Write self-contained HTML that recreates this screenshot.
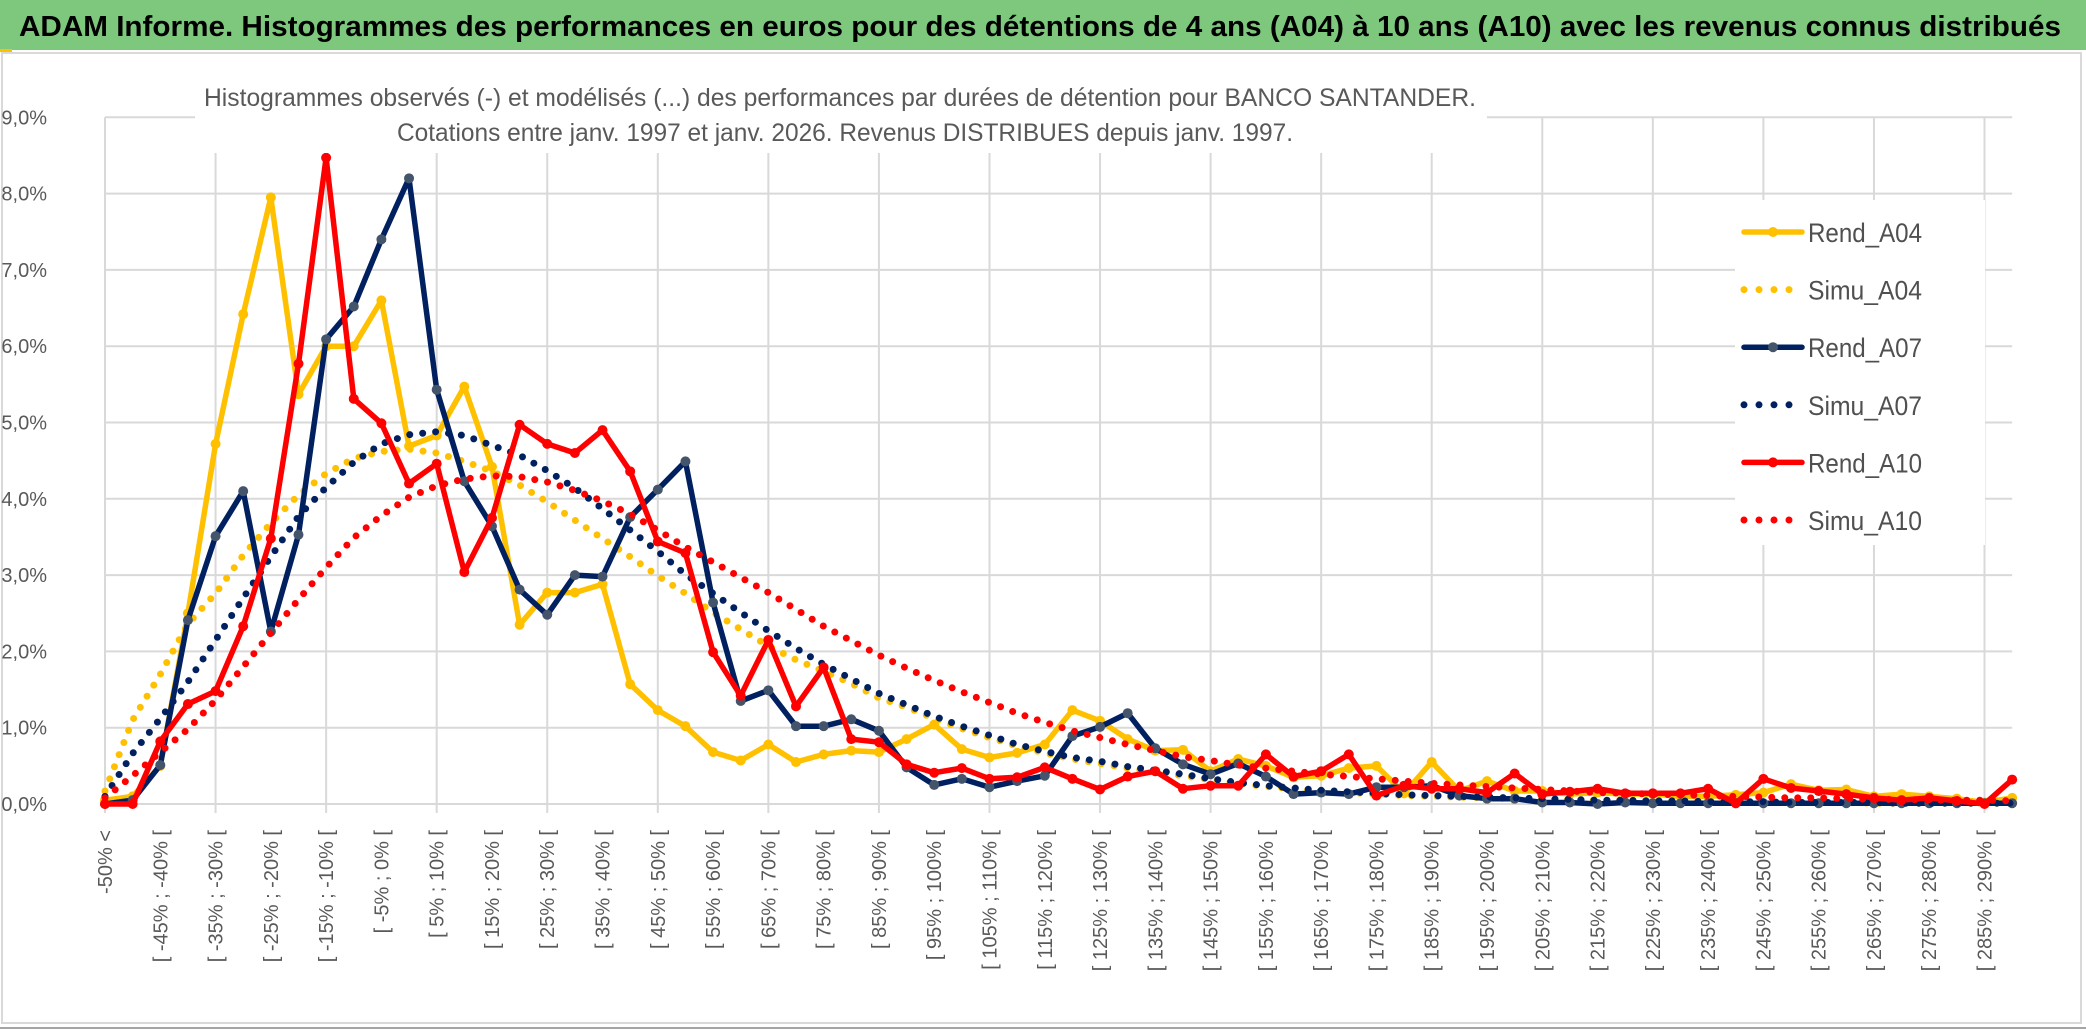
<!DOCTYPE html>
<html><head><meta charset="utf-8"><style>
html,body{margin:0;padding:0;background:#fff;}
svg{display:block;font-family:"Liberation Sans",sans-serif;}
</style></head><body>
<svg id="chart" width="2086" height="1031" viewBox="0 0 2086 1031" xmlns="http://www.w3.org/2000/svg">
<rect x="0" y="0" width="2086" height="1031" fill="#fff"/>
<rect x="0" y="0" width="2086" height="50" fill="#7dc87d"/>
<rect x="0" y="49" width="12" height="3" fill="#ffc000"/>
<text x="19" y="36" font-size="29" font-weight="bold" fill="#000" textLength="2042" lengthAdjust="spacingAndGlyphs">ADAM Informe. Histogrammes des performances en euros pour des détentions de 4 ans (A04) à 10 ans (A10) avec les revenus connus distribués</text>
<rect x="2" y="53" width="2079" height="970" fill="#fff" stroke="#d9d9d9" stroke-width="2"/>
<line x1="0" y1="1028" x2="2086" y2="1028" stroke="#a6a6a6" stroke-width="2"/>
<g id="grid"></g>
<g id="series"></g>
<rect x="195" y="75" width="1292" height="78" fill="#fff"/>
<text x="204" y="106" font-size="25" fill="#595959" textLength="1272" lengthAdjust="spacingAndGlyphs">Histogrammes observés (-) et modélisés (...) des performances par durées de détention pour BANCO SANTANDER.</text>
<text x="397" y="141" font-size="25" fill="#595959" textLength="896" lengthAdjust="spacingAndGlyphs">Cotations entre janv. 1997 et janv. 2026. Revenus DISTRIBUES depuis janv. 1997.</text>
<g id="legend"></g>
</svg>
<script>
const rendA04 = [0.05,0.1,0.5,2.5,4.72,6.42,7.95,5.37,6.0,6.0,6.6,4.69,4.83,5.47,4.42,2.35,2.77,2.77,2.88,1.57,1.23,1.02,0.68,0.57,0.78,0.55,0.65,0.7,0.68,
 0.85,1.04,0.72,0.61,0.67,0.78,1.23,1.09,0.85,0.7,0.71,0.43,0.59,0.5,
 0.35,0.37,0.47,0.5,0.14,0.55,0.17,0.3,0.17,0.17,0.13,0.15,0.13,0.13,
 0.1,0.1,0.12,0.15,0.26,0.18,0.19,0.1,0.13,0.1,0.07,0.02,0.08];
const simuA04 = [0.17,1.1,1.7,2.36,2.76,3.26,3.68,4.05,4.33,4.53,4.62,4.65,4.6,4.49,4.36,4.18,3.96,3.72,3.48,3.24,2.99,2.76,2.51,2.29,2.07,1.89,1.74,1.58,1.39,
 1.27,1.12,0.99,0.87,0.76,0.67,0.59,0.53,0.47,0.42,0.37,0.32,0.27,0.23,
 0.2,0.17,0.15,0.13,0.11,0.1,0.09,0.08,0.07,0.06,0.05,0.05,0.04,0.04,
 0.03,0.03,0.03,0.02,0.02,0.02,0.02,0.01,0.01,0.01,0.01,0.01,0.01];
const rendA07 = [0,0.05,0.51,2.41,3.51,4.1,2.26,3.53,6.09,6.52,7.4,8.2,5.43,4.23,3.64,2.81,2.48,3.0,2.98,3.76,4.12,4.49,2.64,1.35,1.49,1.02,1.02,1.11,0.96,
 0.48,0.25,0.33,0.22,0.3,0.37,0.89,1.01,1.19,0.73,0.52,0.39,0.53,0.36,
 0.13,0.15,0.13,0.22,0.22,0.24,0.11,0.07,0.07,0.02,0.02,0,0.02,0.01,
 0.01,0.01,0.01,0.01,0.01,0.01,0.01,0.01,0.01,0.01,0.01,0.01,0.01];
const simuA07 = [0.1,0.66,1.12,1.6,2.15,2.7,3.24,3.77,4.15,4.48,4.72,4.84,4.88,4.83,4.7,4.57,4.37,4.14,3.87,3.59,3.31,3.01,2.76,2.51,2.27,2.04,1.83,1.64,1.45,
 1.3,1.15,1.02,0.9,0.78,0.69,0.61,0.56,0.49,0.44,0.39,0.33,0.28,0.24,
 0.21,0.18,0.16,0.14,0.12,0.11,0.1,0.09,0.08,0.07,0.06,0.05,0.05,0.04,
 0.04,0.03,0.03,0.03,0.02,0.02,0.02,0.02,0.01,0.01,0.01,0.01,0.01];
const rendA10 = [0,0,0.82,1.31,1.48,2.33,3.48,5.77,8.47,5.31,4.99,4.2,4.46,3.04,3.75,4.97,4.72,4.6,4.9,4.36,3.44,3.29,1.99,1.42,2.15,1.28,1.79,0.85,0.81,
 0.52,0.41,0.47,0.33,0.35,0.48,0.33,0.19,0.36,0.43,0.2,0.24,0.24,0.65,
 0.36,0.43,0.65,0.11,0.24,0.2,0.2,0.15,0.4,0.13,0.16,0.2,0.14,0.14,
 0.14,0.2,0.01,0.33,0.21,0.17,0.13,0.08,0.05,0.08,0.04,0,0.32];
const simuA10 = [0.08,0.37,0.68,0.98,1.36,1.8,2.24,2.68,3.1,3.49,3.78,4.02,4.17,4.26,4.3,4.29,4.22,4.11,3.97,3.8,3.59,3.37,3.17,2.97,2.77,2.55,2.33,2.14,1.95,
 1.78,1.62,1.47,1.33,1.19,1.07,0.96,0.87,0.78,0.7,0.62,0.57,0.51,0.47,
 0.43,0.39,0.36,0.33,0.3,0.27,0.25,0.23,0.21,0.19,0.17,0.15,0.14,0.13,
 0.12,0.11,0.1,0.09,0.08,0.08,0.07,0.06,0.06,0.05,0.05,0.05,0.04];
const yTickValues = [0,1,2,3,4,5,6,7,8,9];
const yTickLabels = ["0,0%","1,0%","2,0%","3,0%","4,0%","5,0%","6,0%","7,0%","8,0%","9,0%"];
const binLower = [];
for (let i = 1; i < 70; i++) binLower.push(-50 + 5 * (i - 1));
const categories = ["-50% <"].concat(binLower.map(l => "[ " + l + "% ; " + (l + 5) + "% ["));
const seriesNames = ["Rend_A04","Simu_A04","Rend_A07","Simu_A07","Rend_A10","Simu_A10"];

const NS = "http://www.w3.org/2000/svg";
const X0 = 105, XSTEP = 27.64, Y0 = 804, YUNIT = 76.3;
function xPos(i){ return X0 + i * XSTEP; }
function yPos(v){ return Y0 - v * YUNIT; }
function mk(tag, attrs, parent){ const e = document.createElementNS(NS, tag); for (const k in attrs) e.setAttribute(k, attrs[k]); parent.appendChild(e); return e; }

const grid = document.getElementById('grid');
const xRight = xPos(categories.length - 1);
yTickValues.forEach((v, k) => {
  const ln = mk('line', {x1: X0, x2: xRight, y1: yPos(v), y2: yPos(v), stroke: '#d9d9d9', 'stroke-width': 2}, grid);
  
  
  const t = mk('text', {x: 47, y: yPos(v) + 7, 'font-size': 20, fill: '#595959', 'text-anchor': 'end'}, grid);
  t.textContent = yTickLabels[k];
  
  
});
for (let i = 0; i < categories.length; i += 4) {
  const ln = mk('line', {x1: xPos(i), x2: xPos(i), y1: yPos(9), y2: Y0 + 9, stroke: '#d9d9d9', 'stroke-width': 2}, grid);
  
  
}
for (let i = 0; i < categories.length; i += 2) {
  const x = xPos(i) + 7, y = 830;
  const t = mk('text', {x: x, y: y, 'font-size': 20, fill: '#595959', 'text-anchor': 'end', transform: 'rotate(-90 ' + x + ' ' + y + ')'}, grid);
  t.textContent = categories[i];
  
  
}

const seriesG = document.getElementById('series');
function drawRend(vals, color, markerColor, name){
  const g = mk('g', {}, seriesG);
  
  
  const pts = vals.map((v, i) => xPos(i).toFixed(1) + ',' + yPos(v).toFixed(1)).join(' ');
  mk('polyline', {points: pts, fill: 'none', stroke: color, 'stroke-width': 5.5, 'stroke-linejoin': 'round', 'stroke-linecap': 'round'}, g);
  vals.forEach((v, i) => {
    const c = mk('circle', {cx: xPos(i), cy: yPos(v), r: 5, fill: markerColor}, g);
    
    
  });
}
function drawSimu(vals, color, name){
  const pts = vals.map((v, i) => xPos(i).toFixed(1) + ',' + yPos(v).toFixed(1)).join(' ');
  const p = mk('polyline', {points: pts, fill: 'none', stroke: color, 'stroke-width': 7, 'stroke-linecap': 'round', 'stroke-dasharray': '0 13'}, seriesG);
  
  
}
drawRend(rendA04, '#ffc000', '#ffc000', 'series-rend-a04');
drawSimu(simuA04, '#ffc000', 'series-simu-a04');
drawRend(rendA07, '#002060', '#44546a', 'series-rend-a07');
drawSimu(simuA07, '#002060', 'series-simu-a07');
drawRend(rendA10, '#ff0000', '#ff0000', 'series-rend-a10');
drawSimu(simuA10, '#ff0000', 'series-simu-a10');

const legend = document.getElementById('legend');
const lbg = mk('rect', {x: 1735, y: 200, width: 250, height: 345, fill: '#fff'}, legend);


const legColors = ['#ffc000','#ffc000','#002060','#002060','#ff0000','#ff0000'];
const legMarkers = ['#ffc000',null,'#44546a',null,'#ff0000',null];
seriesNames.forEach((n, k) => {
  const y = 232 + k * 57.6;
  const g = mk('g', {}, legend);
  
  
  if (legMarkers[k]) {
    mk('line', {x1: 1744, x2: 1802, y1: y, y2: y, stroke: legColors[k], 'stroke-width': 5.5, 'stroke-linecap': 'round'}, g);
    mk('circle', {cx: 1773, cy: y, r: 5, fill: legMarkers[k]}, g);
  } else {
    mk('line', {x1: 1744, x2: 1800, y1: y, y2: y, stroke: legColors[k], 'stroke-width': 7, 'stroke-linecap': 'round', 'stroke-dasharray': '0 15'}, g);
  }
  const t = mk('text', {x: 1808, y: y + 10, 'font-size': 27, fill: '#505050', textLength: 114, lengthAdjust: 'spacingAndGlyphs'}, g);
  t.textContent = n;
});
</script>
</body></html>
